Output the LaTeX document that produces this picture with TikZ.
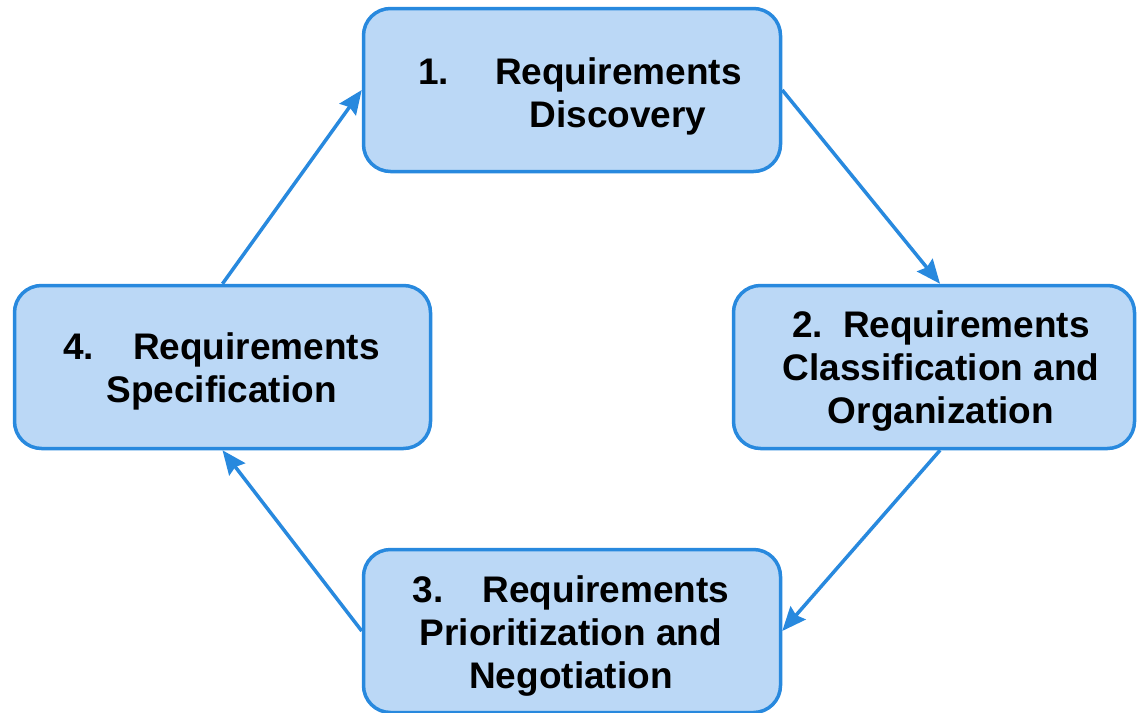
\documentclass[tikz,border=0pt]{standalone}
\usepackage{fontspec}
\setmainfont{Liberation Sans}
\usetikzlibrary{arrows.meta,calc}
\definecolor{boxfill}{RGB}{187,216,246}
\definecolor{boxline}{RGB}{40,137,222}
\tikzset{
  stagebox/.style={draw=boxline, fill=boxfill, line width=3.5pt, rounded corners=27pt,
    inner sep=0pt, minimum height=163pt},
  stagetext/.style={align=center, font=\fontsize{37}{43}\selectfont\bfseries, inner sep=0pt},
  flow/.style={draw=boxline, line width=3.5pt, -{Stealth[length=24pt,width=20pt,inset=3pt]}}
}
\begin{document}
\begin{tikzpicture}[x=1pt,y=-1pt]
\useasboundingbox (0,0) rectangle (1137,712);
\node[stagebox, minimum width=417pt] (b1) at (572,90) {};
\node[stagebox, minimum width=401pt] (b2) at (934,367) {};
\node[stagebox, minimum width=417pt] (b3) at (572,631) {};
\node[stagebox, minimum width=416pt] (b4) at (222.5,367) {};
\node[stagetext] (t1) at (580,96) {1.\hspace{46pt}Requirements\\\hspace*{76pt}Discovery};
\node[stagetext] (t2) at (941,371) {2.\hspace{20pt}Requirements\\Classification and\\Organization};
\node[stagetext] (t3) at (571,636) {3.\hspace{39pt}Requirements\\Prioritization and\\Negotiation};
\node[stagetext] (t4) at (221.5,371) {4.\hspace{39pt}Requirements\\Specification};
\draw[flow] (b1.east) -- ([xshift=6pt]b2.north);
\draw[flow] ([xshift=6pt]b2.south) -- (b3.east);
\draw[flow] (b3.west) -- (b4.south);
\draw[flow] (b4.north) -- (b1.west);
\end{tikzpicture}
\end{document}
